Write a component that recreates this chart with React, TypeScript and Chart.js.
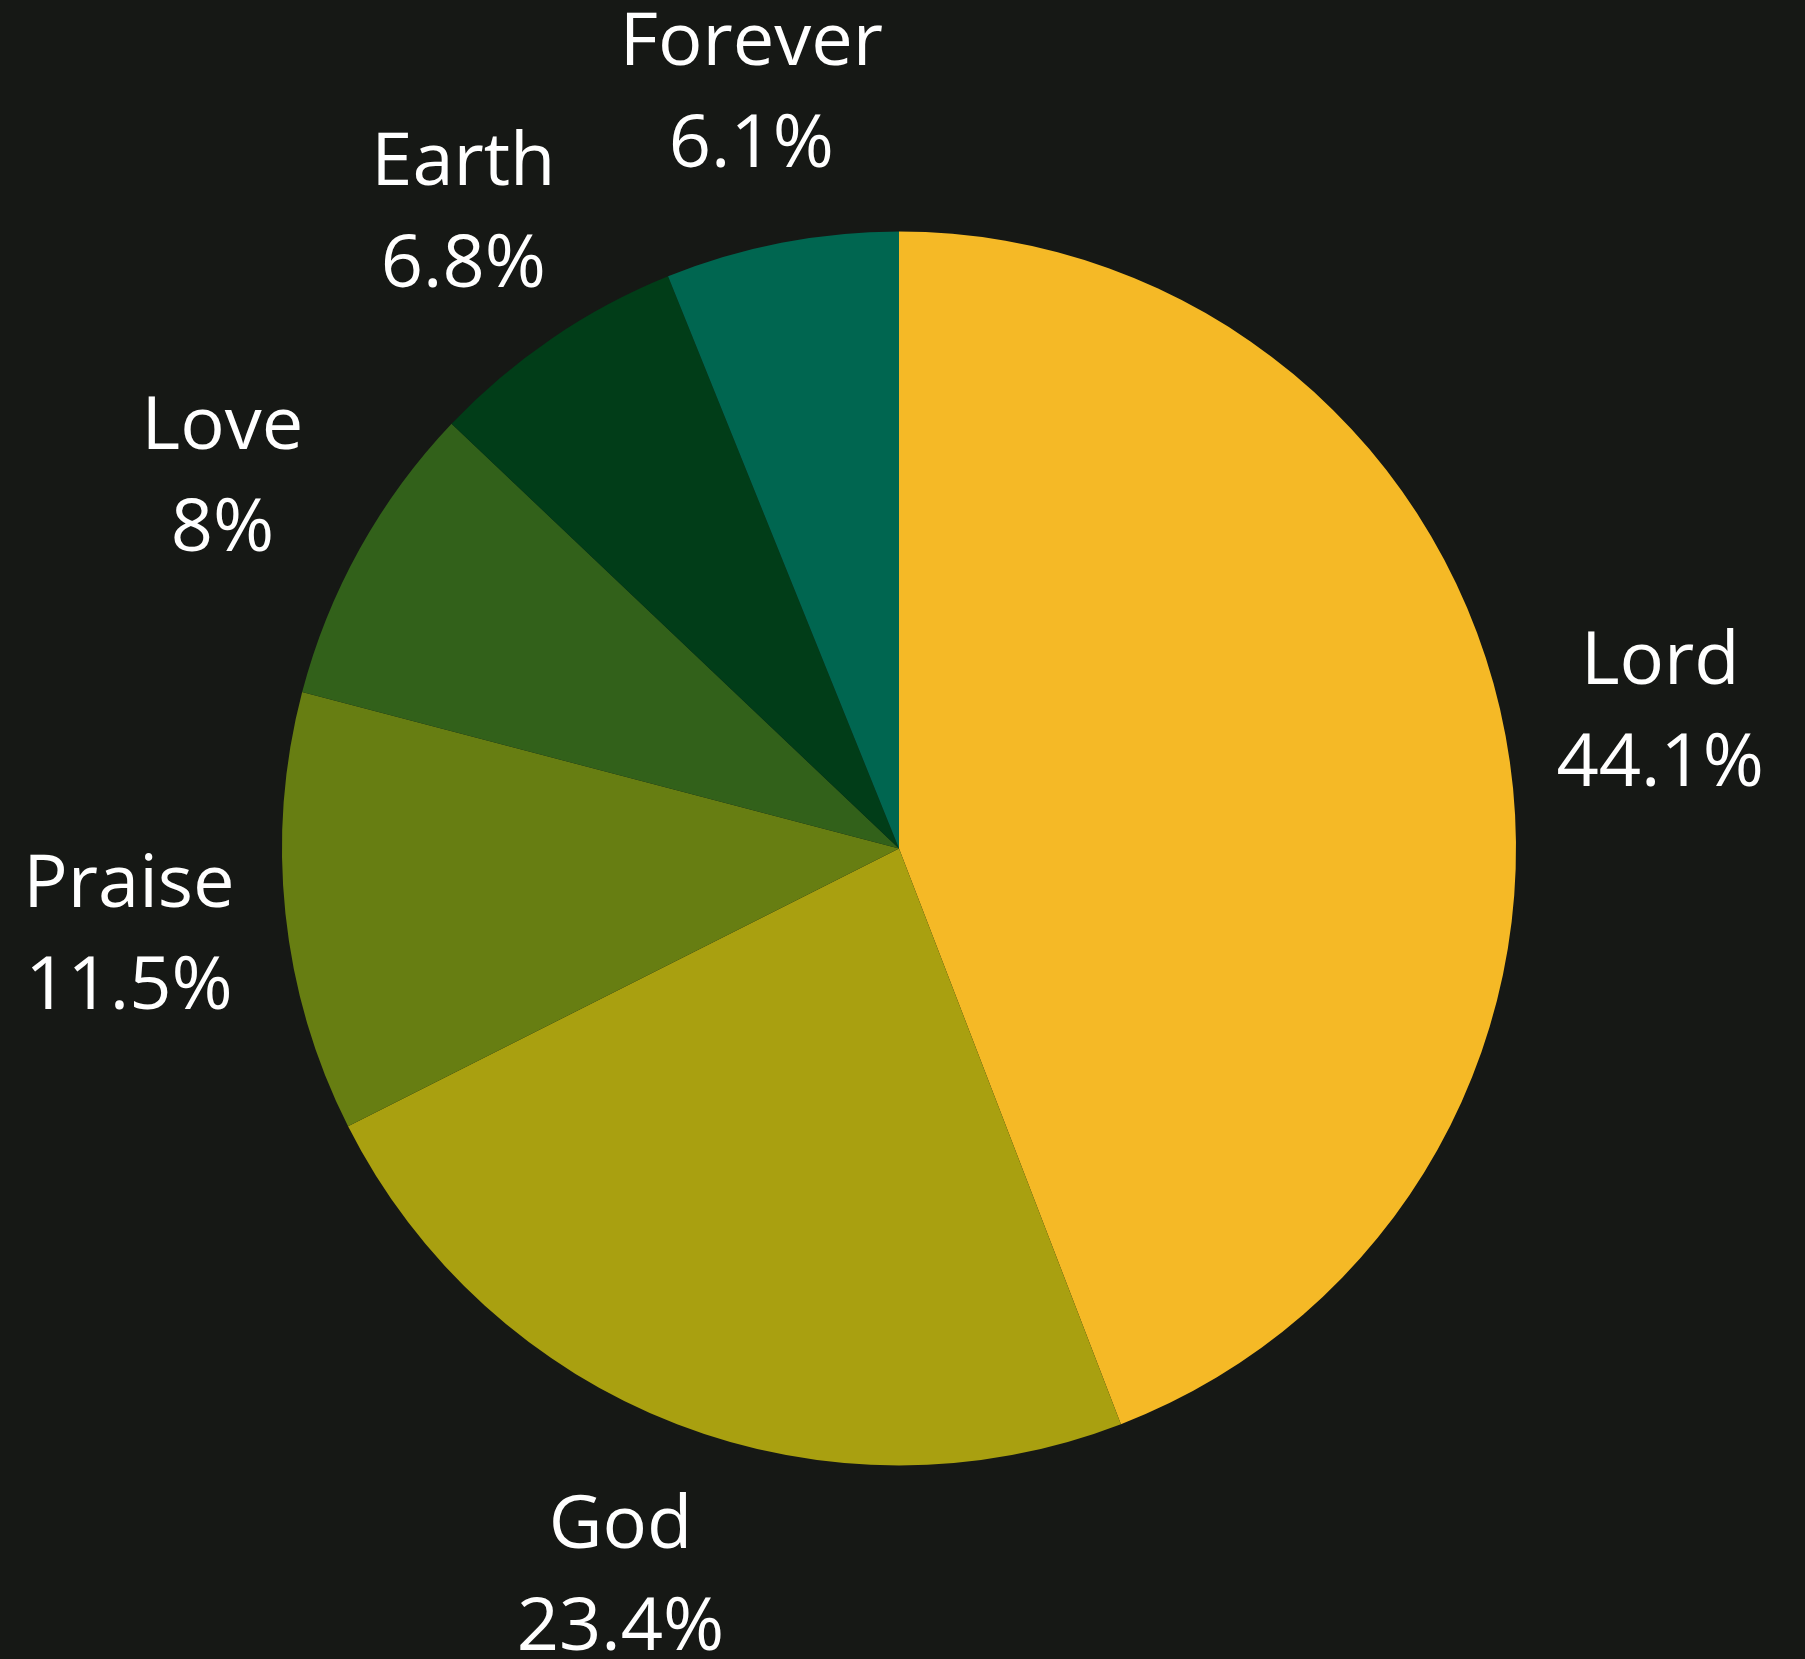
import React, { useEffect, useRef } from "react";
import { Chart, registerables } from "chart.js";

Chart.register(...registerables);

const categories = ["Lord", "God", "Praise", "Love", "Earth", "Forever"];
const shares = [44.1, 23.4, 11.5, 8, 6.8, 6.1];
const colors = ["#F5B926", "#A9A010", "#677E12", "#32611A", "#013D18", "#006650"];

const BG = "#161815";

const labelPlugin = {
  id: "outerLabels",
  afterDatasetsDraw(chart: any) {
    const ctx = chart.ctx;
    const meta = chart.getDatasetMeta(0);
    ctx.save();
    ctx.fillStyle = "#FFFFFF";
    ctx.font = "74px 'Open Sans'";
    ctx.textAlign = "center";
    ctx.textBaseline = "middle";
    meta.data.forEach((arc: any, i: number) => {
      const mid = (arc.startAngle + arc.endAngle) / 2;
      const r = arc.outerRadius * 1.255;
      const x = arc.x + Math.cos(mid) * r;
      const y = arc.y + Math.sin(mid) * r + 6;
      ctx.fillText(categories[i], x, y - 50);
      ctx.fillText(String(shares[i]) + "%", x, y + 52);
    });
    ctx.restore();
  },
};

export default function App() {
  const ref = useRef<HTMLCanvasElement | null>(null);
  useEffect(() => {
    document.body.style.margin = "0";
    document.body.style.background = BG;
    const chart = new Chart(ref.current!, {
      type: "pie",
      data: {
        labels: categories,
        datasets: [
          {
            data: shares,
            backgroundColor: colors,
            borderWidth: 0,
          },
        ],
      },
      options: {
        responsive: false,
        animation: false,
        layout: { padding: { top: 231, bottom: 193, left: 282, right: 289 } },
        plugins: {
          legend: { display: false },
          tooltip: { enabled: false },
        },
      },
      plugins: [labelPlugin],
    });
    return () => chart.destroy();
  }, []);
  return (
    <div style={{ width: 1805, height: 1659, background: BG }}>
      <canvas ref={ref} width={1805} height={1659} style={{ display: "block" }} />
    </div>
  );
}
